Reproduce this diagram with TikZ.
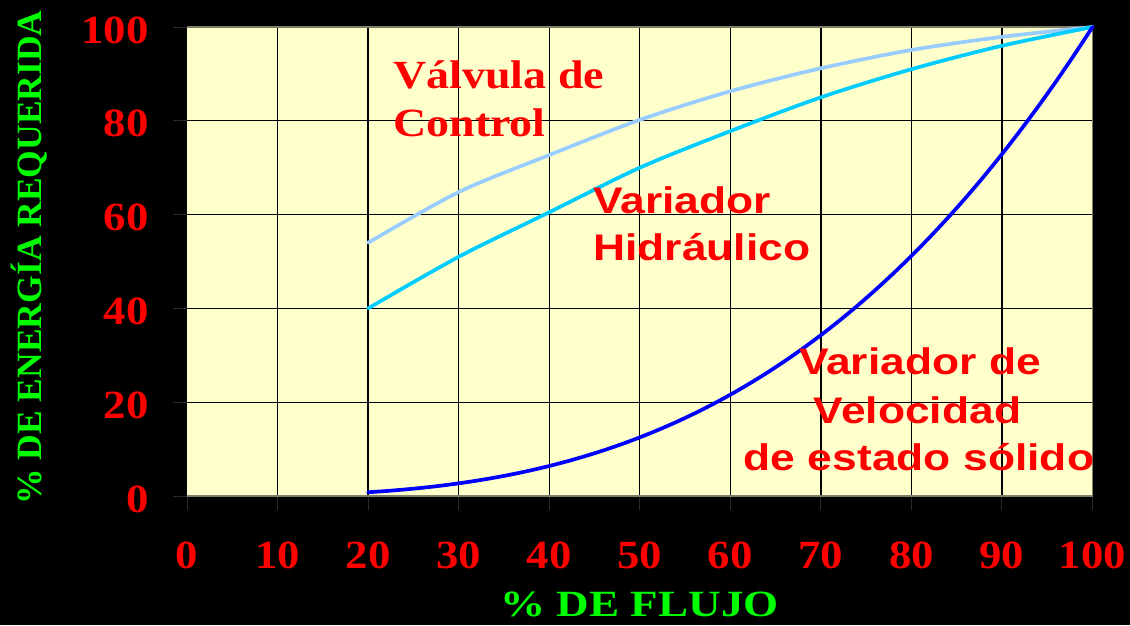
\documentclass[tikz,border=0pt]{standalone}
\usepackage{fontspec}
\setmainfont{Liberation Serif}
\setsansfont{Liberation Sans}
\definecolor{plotbg}{HTML}{FFFFCC}
\definecolor{valvec}{HTML}{99CCFF}
\definecolor{hidrc}{HTML}{00CCFF}
\definecolor{vfdc}{HTML}{0000FF}
\definecolor{labred}{HTML}{FF0000}
\definecolor{labgreen}{HTML}{00FF00}
\definecolor{framec}{HTML}{7F7F6A}
\definecolor{tickc}{HTML}{2A2A2A}
\tikzset{
  ticklab/.style={inner sep=0pt, text=labred, xscale=1.12, font=\fontsize{40}{48}\selectfont\bfseries},
  axlab/.style={inner sep=0pt, text=labgreen},
  serlab/.style={inner sep=0pt, text=labred, xscale=1.15, font=\fontsize{40}{48}\selectfont\bfseries},
  sanslab/.style={inner sep=0pt, text=labred, xscale=1.2, font=\sffamily\fontsize{37}{45}\selectfont\bfseries},
  gridline/.style={black, line width=1.3pt},
  curve/.style={line width=3.7pt, line cap=round, line join=round}
}
\begin{document}
\begin{tikzpicture}[x=1pt, y=-1pt]
\useasboundingbox (0,0) rectangle (1130,625);
\fill[black] (0,0) rectangle (1130,625);
\begin{scope}[shift={(187pt,-496pt)}, x=9.055pt, y=4.69pt]
  \fill[plotbg] (0,0) rectangle (100,100);
  % ticks outside
  \foreach \gx in {0,10,...,100} \draw[tickc, line width=1pt] (\gx,0) -- (\gx,-3);
  \foreach \gy in {0,20,...,100} \draw[tickc, line width=1pt] (0,\gy) -- (-1.6,\gy);
  \foreach \gx in {10,20,...,90} \draw[gridline] (\gx,0) -- (\gx,100);
  \foreach \gy in {20,40,...,80} \draw[gridline] (0,\gy) -- (100,\gy);
  \draw[framec, line width=1.3pt] (0,0) -- (100,0) -- (100,100) -- (0,100);
  \draw[curve, valvec] plot[smooth, tension=0.5] coordinates {(20,54) (30,64.8) (40,72.7) (50,80.2) (60,86.3) (70,91.2) (80,95.1) (90,97.9) (100,100)};
  \draw[curve, hidrc] plot[smooth, tension=0.5] coordinates {(20,40) (30,51) (40,60.5) (50,70) (60,77.8) (70,85) (80,91) (90,96) (100,100)};
  \draw[curve, vfdc] plot[domain=20:100, samples=41, smooth] (\x, {100*(\x/100)^3});
  % y tick labels
  \foreach \gy in {0,20,...,100}
    \node[ticklab, anchor=east] (ylab\gy) at ([yshift=-3pt]-4.2,\gy) {\gy};
  % x tick labels
  \foreach \gx in {0,10,...,100}
    \node[ticklab] (xlab\gx) at ([yshift=-59pt]\gx,0) {\gx};
\end{scope}
\node[axlab, anchor=base, font=\fontsize{37}{45}\selectfont\bfseries, xscale=1.22] (xaxis) at (639.5,616) {\% DE FLUJO};
\node[axlab, anchor=base, rotate=90, font=\fontsize{35.5}{42}\selectfont\bfseries] (yaxis) at (41,257.5) {\% DE ENERGÍA REQUERIDA};
\node[serlab, anchor=base west] (valve1) at (393,88.3) {Válvula de};
\node[serlab, anchor=base west] (valve2) at (393,136) {Control};
\node[sanslab, anchor=base west] (hidr1) at (593,213.3) {Variador};
\node[sanslab, anchor=base west] (hidr2) at (593,260) {Hidráulico};
\node[sanslab, anchor=base] (vfd1) at (920,374.3) {Variador de};
\node[sanslab, anchor=base] (vfd2) at (917.5,423.3) {Velocidad};
\node[sanslab, anchor=base] (vfd3) at (919,470) {de estado sólido};
\end{tikzpicture}
\end{document}
